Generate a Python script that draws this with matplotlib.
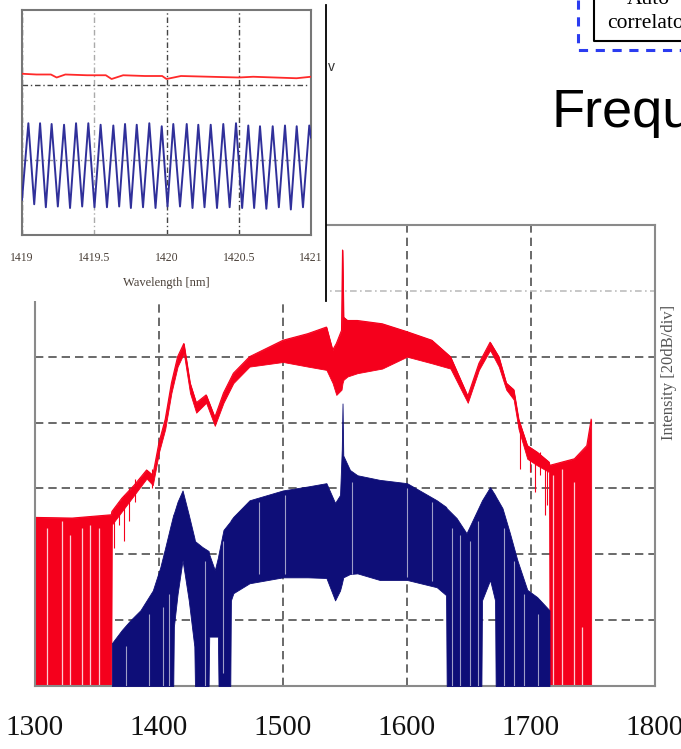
import numpy as np
import matplotlib
matplotlib.use("Agg")
import matplotlib.pyplot as plt

plt.rcParams["font.family"] = ["Liberation Serif", "DejaVu Serif"]

RED = "#f5001c"
NAVY = "#0e0e78"

# main spectrum, levels in divisions (20 dB/div), 0 = bottom of the screen
red_wl = [1300, 1330, 1361.5, 1362, 1370, 1380, 1390, 1395, 1400, 1405, 1410, 1415,
          1420, 1425, 1430, 1438, 1445, 1452, 1460, 1473, 1500, 1520, 1535, 1540,
          1543, 1547.2, 1548, 1548.8, 1552, 1560, 1580, 1600, 1620, 1635, 1649,
          1658, 1667, 1674, 1680, 1686, 1690, 1697, 1705, 1714.5, 1715, 1725,
          1735, 1745, 1748.5]
red_top = [2.56, 2.55, 2.6, 2.65, 2.85, 3.05, 3.28, 3.2, 3.7, 4.05, 4.6, 5.0,
           5.2, 4.6, 4.3, 4.42, 4.08, 4.45, 4.75, 5.0, 5.25, 5.35, 5.45, 5.1,
           5.2, 5.4, 6.62, 5.6, 5.55, 5.55, 5.5, 5.38, 5.25, 5.0, 4.4,
           4.9, 5.22, 5.0, 4.6, 4.5, 4.05, 3.65, 3.55, 3.4, 3.35, 3.4,
           3.45, 3.65, 4.05]
red_bot = [0, 0, 0, 2.45, 2.65, 2.9, 3.15, 3.05, 3.55, 3.9, 4.45, 4.85,
           5.05, 4.45, 4.15, 4.3, 3.95, 4.3, 4.6, 4.85, 4.92, 4.85, 4.8, 4.6,
           4.42, 4.5, 4.6, 4.65, 4.7, 4.75, 4.82, 5.0, 4.9, 4.82, 4.3,
           4.8, 5.1, 4.85, 4.5, 4.35, 3.9, 3.45, 3.35, 3.25, 0, 0,
           0, 0, 0]

blue_wl = [1362, 1370, 1377, 1385, 1390, 1395, 1401, 1405, 1409, 1411.5, 1412,
           1415, 1419, 1424, 1428.5, 1429, 1435, 1440, 1440.5, 1445, 1447.5,
           1448, 1452, 1457.5, 1458, 1460, 1473, 1500, 1520, 1535, 1542, 1546,
           1547.4, 1548, 1548.6, 1554, 1560, 1578, 1600, 1624, 1631.5, 1632,
           1640, 1648, 1655, 1660, 1660.5, 1667, 1671, 1671.5, 1677, 1683,
           1689, 1697, 1705, 1714.9]
blue_top = [0.65, 0.85, 1.0, 1.15, 1.3, 1.45, 1.8, 2.1, 2.41, 2.6, 2.62,
            2.8, 2.97, 2.6, 2.25, 2.2, 2.11, 2.05, 2.0, 1.76, 1.95,
            2.0, 2.37, 2.5, 2.52, 2.57, 2.82, 2.97, 3.03, 3.08, 2.78, 2.9,
            3.6, 4.29, 3.5, 3.28, 3.2, 3.13, 3.08, 2.82, 2.72, 2.7,
            2.55, 2.32, 2.6, 2.8, 2.82, 3.02, 2.9, 2.88, 2.7, 2.32,
            1.91, 1.46, 1.35, 1.15]
blue_bot = [0, 0, 0, 0, 0, 0, 0, 0, 0, 0, 0.9,
            1.4, 1.91, 1.3, 0.6, 0, 0, 0, 0.75, 0.75, 0.75,
            0, 0, 0, 1.3, 1.41, 1.56, 1.65, 1.65, 1.64, 1.3, 1.45,
            1.55, 1.6, 1.65, 1.7, 1.71, 1.61, 1.61, 1.5, 1.38, 0,
            0, 0, 0, 0, 1.3, 1.61, 1.3, 0, 0, 0,
            0, 0, 0, 0]

# noise spikes on the thin parts of the red trace: (wavelength, low, high)
red_spikes = [(1364, 2.1, 2.7), (1368, 2.45, 2.8), (1372, 2.2, 2.9),
              (1376, 2.5, 3.0), (1381, 2.8, 3.15), (1394, 3.0, 3.3),
              (1691, 3.3, 4.0), (1699, 3.25, 3.6), (1703, 2.95, 3.55),
              (1707, 3.2, 3.55), (1711, 2.6, 3.45), (1713, 2.75, 3.4)]
# thin white gaps seen inside the filled areas: (wavelength, low, high)
red_gaps = [(1310, 0, 2.4), (1322, 0, 2.5), (1328, 0, 2.3), (1338, 0, 2.4),
            (1344, 0, 2.45), (1352, 0, 2.4), (1718, 0, 3.2), (1725, 0, 3.3),
            (1735, 0, 3.1), (1741, 0, 0.9)]
blue_gaps = [(1373, 0, 0.6), (1392, 0, 1.1), (1403, 0, 1.2), (1408, 0, 1.4),
             (1437, 0, 1.9), (1452, 0.2, 2.2), (1481, 1.7, 2.8), (1502, 1.7, 2.9),
             (1556, 1.7, 3.1), (1600, 1.65, 3.0), (1620, 1.6, 2.8),
             (1636, 0, 2.4), (1643, 0, 2.3), (1651, 0, 2.2), (1657, 0, 2.5),
             (1678, 0, 2.4), (1686, 0, 1.9), (1694, 0, 1.4), (1706, 0, 1.1)]

# inset: zoom on 1419-1421 nm
ins_peak_wl = [1419.044, 1419.125, 1419.205, 1419.291, 1419.374, 1419.459,
               1419.544, 1419.632, 1419.713, 1419.794, 1419.881, 1419.967,
               1420.047, 1420.140, 1420.220, 1420.306, 1420.393, 1420.481,
               1420.566, 1420.647, 1420.735, 1420.820, 1420.901, 1420.988]
ins_peak = [1.49, 1.49, 1.48, 1.47, 1.49, 1.49, 1.47, 1.46, 1.48, 1.47, 1.49, 1.45,
            1.48, 1.48, 1.47, 1.47, 1.48, 1.49, 1.46, 1.45, 1.45, 1.46, 1.45, 1.46]
ins_trough = [0.41, 0.37, 0.38, 0.36, 0.38, 0.37, 0.37, 0.38, 0.36, 0.37, 0.36, 0.38,
              0.38, 0.36, 0.37, 0.36, 0.37, 0.36, 0.36, 0.35, 0.37, 0.34, 0.37, 0.36]
ins_red_wl = [1419, 1419.1, 1419.2, 1419.24, 1419.3, 1419.45, 1419.58, 1419.62,
              1419.7, 1419.85, 1419.97, 1420.0, 1420.1, 1420.3, 1420.5, 1420.6,
              1420.75, 1420.9, 1421]
ins_red = [2.15, 2.14, 2.14, 2.10, 2.14, 2.13, 2.13, 2.08, 2.13, 2.12, 2.12, 2.08,
           2.12, 2.11, 2.10, 2.11, 2.10, 2.09, 2.11]

fig = plt.figure(figsize=(6.81, 7.49), dpi=100)
W, H = 681, 749


def box(x0, y0, x1, y1):
    return [x0 / W, 1 - y1 / H, (x1 - x0) / W, (y1 - y0) / H]


# ---- main spectrum ----
ax = fig.add_axes(box(35, 225, 655, 686))
ax.fill_between(red_wl, red_bot, red_top, color=RED, lw=0.6, zorder=2)
ax.plot(red_wl, red_top, color=RED, lw=0.8, zorder=2)
for w, lo, hi in red_spikes:
    ax.vlines(w, lo, hi, color=RED, lw=0.8, zorder=2)
for w, lo, hi in red_gaps:
    ax.vlines(w, lo, hi, color="white", lw=0.9, alpha=0.8, zorder=2.5)
ax.fill_between(blue_wl, blue_bot, blue_top, color=NAVY, lw=0.6, zorder=3)
for w, lo, hi in blue_gaps:
    ax.vlines(w, lo, hi, color="white", lw=0.8, alpha=0.6, zorder=3.5)

ax.set_xlim(1300, 1800)
ax.set_ylim(0, 7)
ax.set_xticks([1300, 1400, 1500, 1600, 1700, 1800])
ax.set_yticks([1, 2, 3, 4, 5, 6])
ax.set_yticklabels([])
ax.tick_params(axis="both", length=0)
ax.tick_params(axis="x", pad=21, labelsize=21, labelcolor="#111")
ax.grid(True, color="#505050", ls=(0, (5, 3)), lw=1.2, zorder=1)
ax.get_ygridlines()[5].set_color("#bdbdbd")
ax.get_ygridlines()[5].set_linestyle((0, (4, 2, 1, 2)))
for s in ax.spines.values():
    s.set_color("#8a8a8a")
    s.set_linewidth(1.5)
fig.text(669 / W, 1 - 372 / H, "Intensity [20dB/div]", rotation=90,
         ha="center", va="center", fontsize=12, color="#555")

# ---- white panel holding the inset ----
pane = fig.add_axes(box(0, 5, 326, 301))
pane.set_facecolor("white")
pane.set_xticks([])
pane.set_yticks([])
for k in ["left", "top", "bottom"]:
    pane.spines[k].set_visible(False)
pane.spines["right"].set_color("black")
pane.spines["right"].set_linewidth(1.3)

ins = fig.add_axes(box(22, 10, 311, 235))
blue_x, blue_y = [1419.0], [0.47]
for i in range(len(ins_peak_wl)):
    blue_x.append(ins_peak_wl[i])
    blue_y.append(ins_peak[i])
    if i + 1 < len(ins_peak_wl):
        blue_x.append((ins_peak_wl[i] + ins_peak_wl[i + 1]) / 2)
        blue_y.append(ins_trough[i])
blue_x.append(1421.0)
blue_y.append(1.3)
ins.plot(blue_x, blue_y, color="#30309a", lw=1.4, zorder=3)
ins.plot(ins_red_wl, ins_red, color="#ff2a2a", lw=1.3, zorder=3)
ins.set_xlim(1419, 1421)
ins.set_ylim(0, 3)
ins.set_xticks([1419, 1419.5, 1420, 1420.5, 1421])
ins.set_xticklabels(["1419", "1419.5", "1420", "1420.5", "1421"])
ins.set_yticks([1, 2])
ins.set_yticklabels([])
ins.tick_params(axis="both", length=0)
ins.tick_params(axis="x", pad=12, labelsize=8.5, labelcolor="#4a4038")
ins.grid(True, color="#444", ls=(0, (4, 2, 1, 2)), lw=1.0, zorder=1)
ins.get_xgridlines()[1].set_color("#aaa")
ins.get_ygridlines()[0].set_color("#999")
for s in ins.spines.values():
    s.set_color("#777")
    s.set_linewidth(1.5)
fig.text(166 / W, 1 - 283 / H, "Wavelength [nm]", ha="center", va="center",
         fontsize=9, color="#4a4038")

# ---- fragments of the slide around the chart ----
fig.text(331 / W, 1 - 67 / H, "v", ha="center", va="center", fontsize=10,
         color="#333", family=["Liberation Sans", "DejaVu Sans"])
fig.add_artist(plt.Line2D([578 / W, 578 / W, 1.0], [1.0, 1 - 50 / H, 1 - 50 / H],
                          color="#2b3cf0", lw=2.2, ls=(0, (3, 2.5))))
fig.add_artist(plt.Line2D([594 / W, 594 / W, 1.0], [1.0, 1 - 41 / H, 1 - 41 / H],
                          color="black", lw=1.5))
fig.text(648 / W, 1 - 4 / H, "Auto", ha="center", va="baseline", fontsize=15.5)
fig.text(607 / W, 1 - 28 / H, "correlator", ha="left", va="baseline",
         fontsize=15.5)
fig.text(552 / W, 1 - 127 / H, "Frequency", ha="left", va="baseline",
         fontsize=39, family=["Liberation Sans", "DejaVu Sans"])

fig.savefig("out.png", dpi=100)
